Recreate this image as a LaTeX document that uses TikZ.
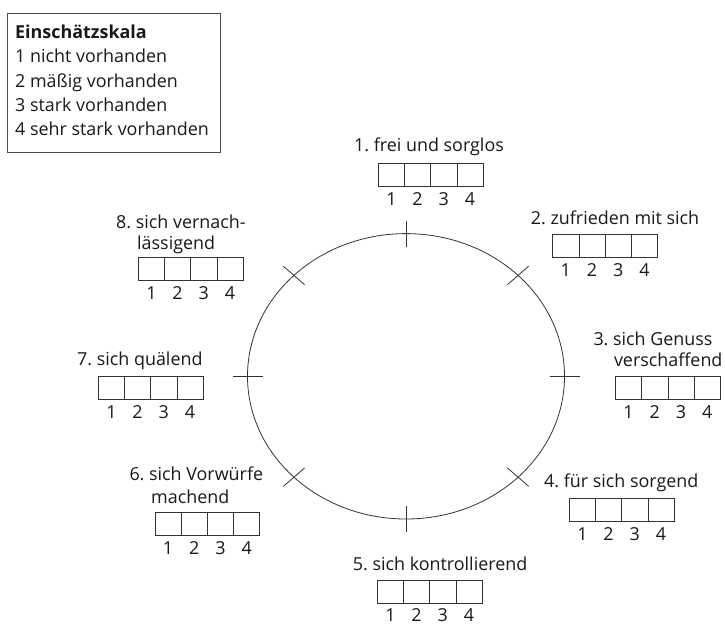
\documentclass[tikz,border=0pt]{standalone}
\usepackage{fontspec}
\setmainfont{Open Sans}
\usetikzlibrary{calc}

\begin{document}
\begin{tikzpicture}[x=1pt, y=-1pt,
		cell/.style={draw=black!80, line width=0.8pt, rectangle, minimum width=26.2pt, minimum height=22.8pt, inner sep=0pt, outer sep=0pt},
		num/.style={anchor=base, inner sep=0pt, text=black!90, font=\fontsize{17.9}{21}\selectfont},
		lbl/.style={anchor=base west, inner sep=0pt, text=black!90, font=\fontsize{17.9}{21}\selectfont},
		tick/.style={draw=black!80, line width=0.8pt}]
		\useasboundingbox (0,0) rectangle (725,626);
		
		% Legende
		\node[draw=black!70, line width=0.8pt, anchor=north west, minimum width=213pt, minimum height=139pt, inner sep=0pt] (legend) at (7,13) {};
		\node[lbl] (leg0) at (15,39) {\bfseries Einschätzskala};
		\node[lbl] (leg1) at (15,63) {1 nicht vorhanden};
		\node[lbl] (leg2) at (15,87) {2 mäßig vorhanden};
		\node[lbl] (leg3) at (15,111) {3 stark vorhanden};
		\node[lbl] (leg4) at (15,135) {4 sehr stark vorhanden};
		
		% Kreis mit Markierungen
		\coordinate (c) at (406,376.3);
		\draw[tick] (c) ellipse [x radius=158.5pt, y radius=142.7pt];
		\foreach \a in {0,45,...,315}
			\draw[tick, shift={(c)}] (\a:143.5pt and 129.7pt) -- (\a:173.5pt and 155.7pt);
		
		% Skalen
		\foreach \s/\x/\y/\d in {1/378.3/163.3/42, 2/552.7/234.3/42, 3/615.5/376.7/42, 4/569.3/498.3/42,
				5/377.3/580.8/40.5, 6/155/512.7/42, 7/98.3/376.3/42, 8/138.3/257.3/42} {
			\foreach \k in {1,...,4} {
				\node[cell] (s\s-\k) at ({\x+13.1+26.2*(\k-1)},{\y+11.4}) {};
				\node[num] (n\s-\k) at ({\x+13.1+26.2*(\k-1)},{\y+\d}) {\k};
			}
		}
		
		% Beschriftungen
		\node[lbl] (l1) at (354,151) {1.\ frei und sorglos};
		\node[lbl] (l2) at (530.7,224.3) {2.\ zufrieden mit sich};
		\node[lbl] (l3a) at (593.3,345) {3.\ sich Genuss};
		\node[lbl] (l3b) at (613.8,366.7) {verschaffend};
		\node[lbl] (l4) at (544,487.3) {4.\ für sich sorgend};
		\node[lbl] (l5) at (352.7,570.7) {5.\ sich kontrollierend};
		\node[lbl] (l6a) at (129.3,480) {6.\ sich Vorwürfe};
		\node[lbl] (l6b) at (151,503) {machend};
		\node[lbl] (l7) at (77,365) {7.\ sich quälend};
		\node[lbl] (l8a) at (116,228.3) {8.\ sich vernach-};
		\node[lbl] (l8b) at (137,249.5) {lässigend};
		
	\end{tikzpicture}
\end{document}
